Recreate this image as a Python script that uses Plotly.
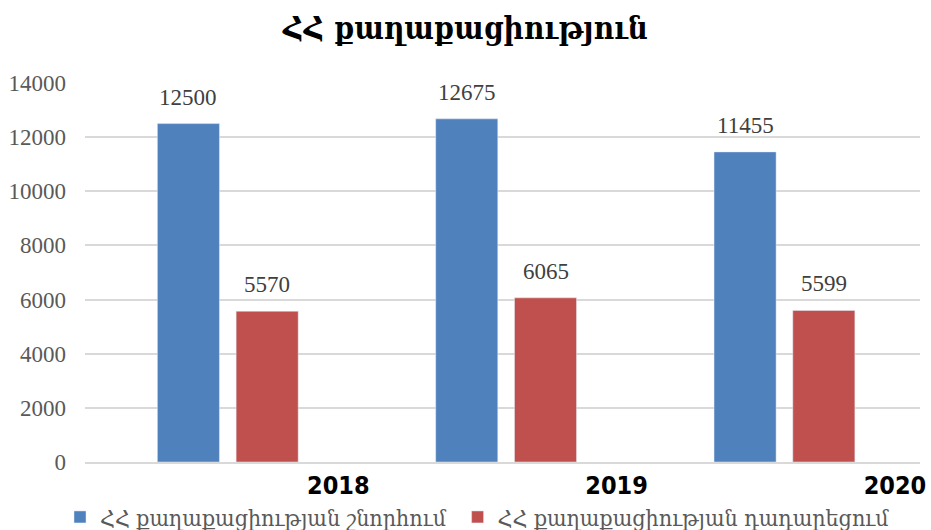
import plotly.graph_objects as go

years = ["2018", "2019", "2020"]
granted = [12500, 12675, 11455]
renounced = [5570, 6065, 5599]
series_names = ["ՀՀ քաղաքացիության շնորհում", "ՀՀ քաղաքացիության դադարեցում"]
title_text = "ՀՀ քաղաքացիություն"
y_ticks = [0, 2000, 4000, 6000, 8000, 10000, 12000, 14000]

BLUE = "#4f81bd"
RED = "#c0504d"
BAR_W = 0.223
OFF_B = -0.24
OFF_R = 0.043
xs = list(range(len(years)))

fig = go.Figure()
fig.add_trace(go.Bar(x=xs, y=granted, name=series_names[0] + "\u00a0", marker_color=BLUE,
                     width=BAR_W, offset=OFF_B))
fig.add_trace(go.Bar(x=xs, y=renounced, name=series_names[1], marker_color=RED,
                     width=BAR_W, offset=OFF_R))

label_font = dict(family="Liberation Serif, DejaVu Serif", size=23, color="#404040")
for i in xs:
    fig.add_annotation(x=i + OFF_B + BAR_W / 2, y=granted[i], text=str(granted[i]),
                       showarrow=False, yanchor="bottom", yshift=12, font=label_font)
    fig.add_annotation(x=i + OFF_R + BAR_W / 2, y=renounced[i], text=str(renounced[i]),
                       showarrow=False, yanchor="bottom", yshift=12, font=label_font)

fig.update_layout(
    width=931, height=530,
    margin=dict(l=85, r=11, t=83, b=68, autoexpand=False),
    plot_bgcolor="white", paper_bgcolor="white",
    title=dict(text="<b>" + title_text + "</b>", x=0.5, xanchor="center",
               y=1 - 28 / 530, yanchor="middle", yref="container",
               font=dict(family="DejaVu Serif Condensed, DejaVu Serif", size=31, color="black")),
    xaxis=dict(range=[-0.5, 2.5], tickmode="array", tickvals=[i + 0.41 for i in xs],
               ticktext=["<b>" + y + "</b>" for y in years], showgrid=False, zeroline=False,
               showline=True, linecolor="#d9d9d9", linewidth=1.5, ticks="",
               automargin=False, ticklabeloverflow="allow", ticklabelstandoff=0,
               tickfont=dict(family="DejaVu Sans Condensed", size=25, color="black")),
    yaxis=dict(range=[0, 14000], tickmode="array", tickvals=y_ticks,
               ticktext=[str(v) for v in y_ticks], showgrid=True, gridcolor="#d9d9d9",
               gridwidth=1.5, zeroline=False, ticks="", automargin=False,
               ticklabelstandoff=18,
               tickfont=dict(family="Liberation Serif, DejaVu Serif", size=23, color="#595959")),
    showlegend=True,
    legend=dict(orientation="h", x=60 / 931, xref="container", xanchor="left",
                y=1 - 517 / 530, yref="container", yanchor="middle",
                font=dict(family="DejaVu Serif Condensed, DejaVu Serif", size=23, color="#595959"),
                itemwidth=30),
)
fig.write_html("out.html", post_script="document.body.style.margin='0';",
               config={"displayModeBar": False})
